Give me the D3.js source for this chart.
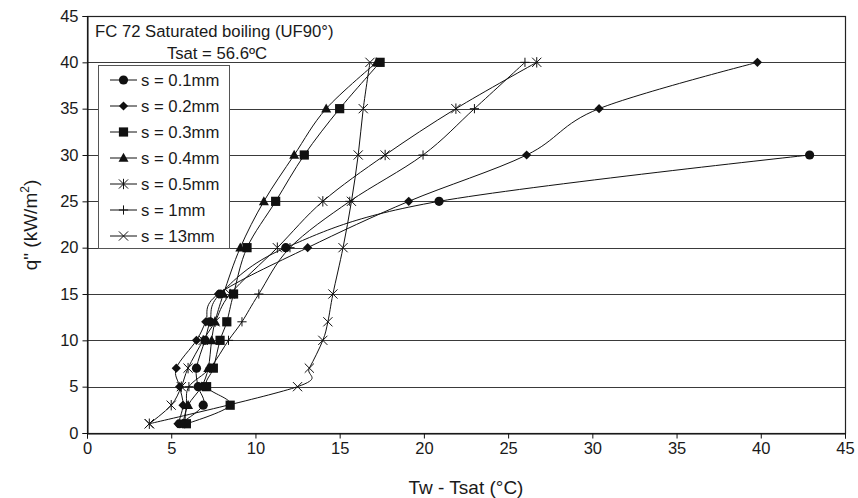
<!DOCTYPE html>
<html><head><meta charset="utf-8">
<script src="https://cdn.jsdelivr.net/npm/d3@7"></script>
<style>body{margin:0;background:#fff}svg{display:block;font-family:"Liberation Sans",Arial,sans-serif}</style>
</head><body>
<svg id="c" width="858" height="498"></svg>
<script>
// ---- data ----
const xTicks = [0,5,10,15,20,25,30,35,40,45];
const yTicks = [0,5,10,15,20,25,30,35,40,45];
const seriesNames = ["s = 0.1mm","s = 0.2mm","s = 0.3mm","s = 0.4mm","s = 0.5mm","s = 1mm","s = 13mm"];
const seriesMarkers = ["circle","diamond","square","triangle","asterisk","plus","cross"];
const q_01 = [1,3,5,7,10,12,15,20,25,30];
const dT_01 = [5.5,6.9,6.6,6.5,7.0,7.3,7.9,11.8,20.9,42.9];
const q_02 = [1,3,5,7,10,12,15,20,25,30,35,40];
const dT_02 = [5.4,5.7,5.5,5.3,6.5,7.05,7.8,13.1,19.1,26.1,30.4,39.8];
const q_03 = [1,3,5,7,10,12,15,20,25,30,35,40];
const dT_03 = [5.9,8.5,7.1,7.5,7.9,8.3,8.7,9.5,11.2,12.9,15.0,17.4];
const q_04 = [1,3,5,7,10,12,15,20,25,30,35,40];
const dT_04 = [5.7,6.0,6.8,7.2,7.4,7.6,8.1,9.1,10.5,12.3,14.2,17.2];
const q_05 = [1,3,5,7,10,12,15,20,25,30,35,40];
const dT_05 = [3.7,5.0,5.6,6.0,6.9,7.6,8.5,11.3,14.0,17.7,21.9,26.7];
const q_1 = [1,3,5,7,10,12,15,20,25,30,35,40];
const dT_1 = [5.8,5.9,6.05,7.3,8.4,9.2,10.2,12.05,15.6,19.95,23.0,26.0];
const q_13 = [1,5,7,10,12,15,20,25,30,35,40];
const dT_13 = [3.7,12.5,13.2,14.0,14.3,14.6,15.2,15.7,16.1,16.4,16.8];
const titleLine1 = "FC 72 Saturated boiling (UF90°)";
const titleLine2 = "Tsat = 56.6ºC";

const seriesQ = [q_01,q_02,q_03,q_04,q_05,q_1,q_13];
const seriesDT = [dT_01,dT_02,dT_03,dT_04,dT_05,dT_1,dT_13];
const series = seriesNames.map((n,i)=>({name:n, marker:seriesMarkers[i],
  pts: seriesQ[i].map((q,j)=>({x:seriesDT[i][j], y:q}))}));

// ---- layout ----
const L=87, R=845, T=16, B=433;
const svg = d3.select("#c");
const x = d3.scaleLinear().domain([0,45]).range([L,R]);
const y = d3.scaleLinear().domain([0,45]).range([B,T]);

// gridlines
svg.append("g").selectAll("line").data(yTicks.filter(v=>v>0&&v<45)).join("line")
  .attr("x1",L).attr("x2",R).attr("y1",d=>Math.round(y(d))+0.5).attr("y2",d=>Math.round(y(d))+0.5)
  .attr("stroke","#3a3a3a").attr("stroke-width",1);

// frame
svg.append("rect").attr("x",L+0.5).attr("y",T+0.5).attr("width",R-L).attr("height",B-T)
  .attr("fill","none").attr("stroke","#222").attr("stroke-width",1.2);

// axes
const xa = svg.append("g").attr("transform",`translate(0,${B+0.5})`)
  .call(d3.axisBottom(x).tickValues(xTicks).tickSize(5).tickPadding(4).tickFormat(d3.format("d")));
const ya = svg.append("g").attr("transform",`translate(${L+0.5},0)`)
  .call(d3.axisLeft(y).tickValues(yTicks).tickSize(5).tickPadding(4).tickFormat(d3.format("d")));
[xa,ya].forEach(a=>{a.select(".domain").attr("stroke","#111");
  a.selectAll(".tick line").attr("stroke","#111");
  a.selectAll("text").attr("font-size",16.5).attr("fill","#1a1a1a").attr("font-family","Liberation Sans, Arial, sans-serif");});

// axis titles
svg.append("text").attr("x",466).attr("y",494).attr("text-anchor","middle")
  .attr("font-size",19).attr("fill","#1a1a1a").text("Tw - Tsat (°C)");
const yt = svg.append("text").attr("transform","translate(37,225) rotate(-90)").attr("text-anchor","middle")
  .attr("font-size",19).attr("fill","#1a1a1a");
yt.append("tspan").text('q" (kW/m');
yt.append("tspan").attr("dy",-8).attr("font-size",12).text("2");
yt.append("tspan").attr("dy",8).text(")");

// markers
function drawMarker(g, type, cx, cy){
  const s=4.6;
  if(type==="circle") g.append("circle").attr("cx",cx).attr("cy",cy).attr("r",4.6).attr("fill","#111");
  else if(type==="diamond") g.append("path").attr("d",`M${cx},${cy-4.6}L${cx+4.6},${cy}L${cx},${cy+4.6}L${cx-4.6},${cy}Z`).attr("fill","#111");
  else if(type==="square") g.append("rect").attr("x",cx-4.6).attr("y",cy-4.6).attr("width",9.2).attr("height",9.2).attr("fill","#111");
  else if(type==="triangle") g.append("path").attr("d",`M${cx},${cy-5.2}L${cx+5},${cy+3.8}L${cx-5},${cy+3.8}Z`).attr("fill","#111");
  else if(type==="asterisk") g.append("path").attr("d",`M${cx-s},${cy-s}L${cx+s},${cy+s}M${cx-s},${cy+s}L${cx+s},${cy-s}M${cx},${cy-s-0.6}L${cx},${cy+s+0.6}`).attr("stroke","#111").attr("stroke-width",1).attr("fill","none");
  else if(type==="plus") g.append("path").attr("d",`M${cx-s},${cy}L${cx+s},${cy}M${cx},${cy-s}L${cx},${cy+s}`).attr("stroke","#111").attr("stroke-width",1).attr("fill","none");
  else if(type==="cross") g.append("path").attr("d",`M${cx-s},${cy-s}L${cx+s},${cy+s}M${cx-s},${cy+s}L${cx+s},${cy-s}`).attr("stroke","#111").attr("stroke-width",1).attr("fill","none");
}

const line = d3.line().x(d=>x(d.x)).y(d=>y(d.y)).curve(d3.curveCardinal.tension(0));
const gl = svg.append("g");
series.forEach(s=>{
  gl.append("path").attr("d",line(s.pts)).attr("fill","none").attr("stroke","#111").attr("stroke-width",1);
});
const gm = svg.append("g");
series.forEach(s=>{ s.pts.forEach(p=>drawMarker(gm, s.marker, x(p.x), y(p.y))); });

// title
svg.append("text").attr("x",95).attr("y",37).attr("font-size",16.7).attr("fill","#1a1a1a").text(titleLine1);
svg.append("text").attr("x",217).attr("y",59).attr("text-anchor","middle").attr("font-size",16.7).attr("fill","#1a1a1a").text(titleLine2);

// legend
const lg = svg.append("g");
lg.append("rect").attr("x",98.5).attr("y",65.5).attr("width",131).attr("height",183)
  .attr("fill","#fff").attr("stroke","#555").attr("stroke-width",1);
series.forEach((s,i)=>{
  const cy = 80 + i*26;
  lg.append("line").attr("x1",110).attr("x2",137).attr("y1",cy).attr("y2",cy).attr("stroke","#111");
  drawMarker(lg, s.marker, 123.5, cy);
  lg.append("text").attr("x",141).attr("y",cy+6).attr("font-size",16.7).attr("fill","#1a1a1a").text(s.name);
});
</script>
</body></html>
